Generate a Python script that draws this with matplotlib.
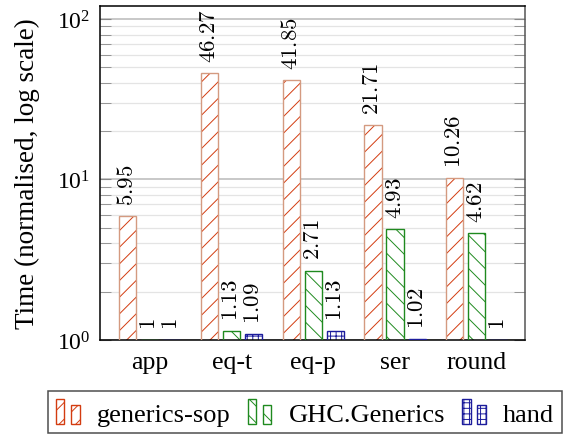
import numpy as np
import matplotlib
matplotlib.use('Agg')
import matplotlib.pyplot as plt
from matplotlib.patches import Patch, Rectangle
from matplotlib.legend_handler import HandlerBase

plt.rcParams['font.family'] = ['Liberation Serif', 'DejaVu Serif']
plt.rcParams['mathtext.fontset'] = 'cm'
plt.rcParams['hatch.linewidth'] = 0.7

categories = ['app', 'eq-t', 'eq-p', 'ser', 'round']
series_names = ['generics-sop', 'GHC.Generics', 'hand']
sop = [5.95, 46.27, 41.85, 21.71, 10.26]
ghc = [1, 1.13, 2.71, 4.93, 4.62]
hand = [1, 1.09, 1.13, 1.02, 1]
value_labels = [
    ['5.95', '46.27', '41.85', '21.71', '10.26'],
    ['1', '1.13', '2.71', '4.93', '4.62'],
    ['1', '1.09', '1.13', '1.02', '1'],
]

# hatch colour, outline colour, hatch
styles = [
    ('#d33c10', '#d49a80', '//'),
    ('#1f8a1f', '#1f8a1f', '\\\\'),
    ('#1c1c9c', '#1c1c9c', '+++'),
]


class TwoBars(HandlerBase):
    # pgfplots style ybar legend: two little bars of different height
    def create_artists(self, legend, orig_handle, xdescent, ydescent,
                       width, height, fontsize, trans):
        col = orig_handle.get_edgecolor()
        hatch = orig_handle.get_hatch()
        w = width * 0.36
        r1 = Rectangle((-xdescent, -ydescent), w, height, facecolor='white',
                       edgecolor=col, hatch=hatch, lw=1.0, transform=trans)
        r2 = Rectangle((-xdescent + width * 0.64, -ydescent), w, height * 0.77,
                       facecolor='white', edgecolor=col, hatch=hatch, lw=1.0,
                       transform=trans)
        return [r1, r2]


fig = plt.figure(figsize=(5.73, 4.35), dpi=100)
ax = fig.add_axes([0.1745, 0.2161, 0.7417, 0.7678])

x = np.arange(len(categories))
bw = 0.21
step = 0.27
data = [sop, ghc, hand]

for i, vals in enumerate(data):
    hcol, ecol, hatch = styles[i]
    pos = x + (i - 1) * step
    ax.bar(pos, vals, bw, facecolor='white', edgecolor=hcol, hatch=hatch,
           linewidth=0, zorder=2)
    ax.bar(pos, vals, bw, fill=False, edgecolor=ecol, linewidth=1.0, zorder=3)
    for p, v, lab in zip(pos, vals, value_labels[i]):
        ax.annotate('$' + lab + '$', (p, v), xytext=(0, 8),
                    textcoords='offset points', ha='center', va='bottom',
                    rotation=90, fontsize=16.5, zorder=4)

ax.set_yscale('log')
ax.set_ylim(1, 120.5)
ax.set_xlim(-0.61, 4.59)
ax.set_xticks(x)
ax.set_xticklabels(categories, fontsize=18.5)
ax.tick_params(axis='x', length=0, pad=8)
ax.tick_params(axis='y', which='both', direction='in', left=True, right=True,
               length=8, color='#888888', labelsize=17, pad=7)
ax.yaxis.set_minor_formatter(matplotlib.ticker.NullFormatter())

ax.set_axisbelow(True)
ax.grid(axis='y', which='major', color='#c4c4c4', linewidth=1.3)
ax.grid(axis='y', which='minor', color='#e4e4e4', linewidth=0.9)
ax.set_ylabel('Time (normalised, log scale)', fontsize=19.5)
ax.yaxis.set_label_coords(-0.142, 0.5)
for s in ax.spines.values():
    s.set_linewidth(1.1)
ax.spines['right'].set_color('#555555')

handles = [Patch(edgecolor=styles[i][0], hatch=styles[i][2]) for i in range(3)]
leg = fig.legend(handles, series_names, handler_map={Patch: TwoBars()},
                 loc='upper left', bbox_to_anchor=(48 / 573, 1 - 392 / 435),
                 ncol=3, fontsize=19, frameon=True, fancybox=False,
                 borderaxespad=0, borderpad=0.3, handlelength=0.9,
                 handleheight=1.1, handletextpad=0.65, columnspacing=0.65)
leg.get_frame().set_edgecolor('#222222')
leg.get_frame().set_linewidth(1.1)

fig.savefig('out.png', dpi=100)
